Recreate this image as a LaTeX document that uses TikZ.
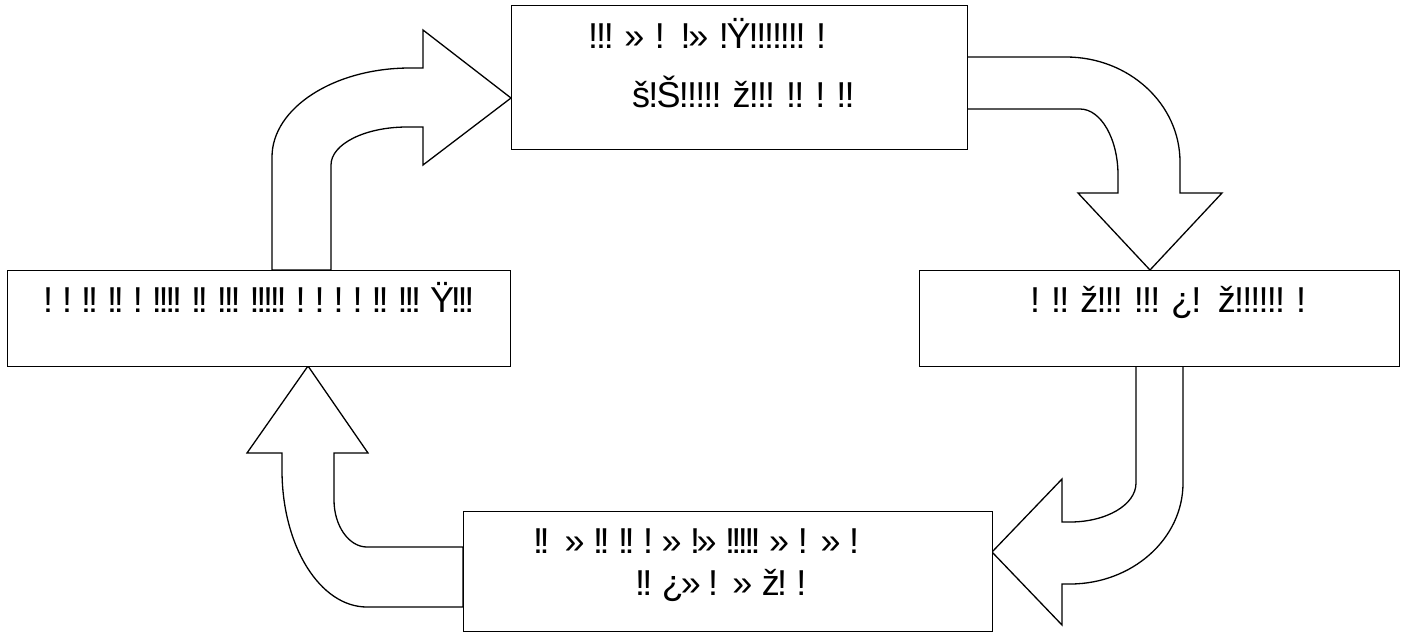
\documentclass[tikz,border=0pt]{standalone}
\usepackage{fontspec}
\setmainfont{Liberation Sans}
\newfontfamily\garb{Liberation Sans}
\newcommand\tightness[1]{\addfontfeature{LetterSpace=#1}}
\begin{document}
\begin{tikzpicture}[x=1pt,y=-1pt,
  box/.style={draw=black, line width=1.3pt, fill=white, inner sep=0pt, anchor=north west},
  blockarrow/.style={draw=black, line width=1.3pt, fill=white, line join=miter},
  lbl/.style={inner sep=0pt, anchor=base west, font=\garb\fontsize{36}{40}\selectfont}]
\useasboundingbox (0,0) rectangle (1410,633);

% curved block arrows between the boxes
% left box -> top box
\filldraw[blockarrow] (272,270) -- (272,157)
  .. controls (272,108) and (334,68) .. (410,68) -- (423,68) -- (423,30)
  -- (511,98) -- (423,165) -- (423,127) -- (407,127)
  .. controls (365,127) and (331,144) .. (331,165) -- (331,270) -- cycle;
% top box -> right box
\filldraw[blockarrow] (967,57) -- (1066,57)
  .. controls (1129,57) and (1180,104) .. (1180,162) -- (1180,193) -- (1222,193)
  -- (1150,270) -- (1078,193) -- (1118,193) -- (1118,175)
  .. controls (1118,139) and (1101,109) .. (1080,109) -- (967,109) -- cycle;
% right box -> bottom box
\filldraw[blockarrow] (1136,366) -- (1136,483)
  .. controls (1136,505) and (1106,522) .. (1070,522) -- (1062,522) -- (1062,479)
  -- (992,552) -- (1062,625) -- (1062,584) -- (1070,584)
  .. controls (1132,584) and (1183,539) .. (1183,483) -- (1183,366) -- cycle;
% bottom box -> left box
\filldraw[blockarrow] (463,547) -- (367,547)
  .. controls (349,547) and (334,526) .. (334,500) -- (334,453) -- (368,453)
  -- (308,366) -- (247,453) -- (282,453) -- (282,470)
  .. controls (282,546) and (320,607) .. (367,607) -- (463,607) -- cycle;

% boxes
\node[box, minimum width=456pt, minimum height=144pt] (topbox) at (511,5) {};
\node[box, minimum width=503pt, minimum height=96pt] (leftbox) at (7,270) {};
\node[box, minimum width=480pt, minimum height=96pt] (rightbox) at (919,270) {};
\node[box, minimum width=529pt, minimum height=120pt] (botbox) at (463,511) {};

% box texts
\node[lbl] (topa) at (588,48) {\tightness{-6}!!! » !\ \ !» !Ÿ!!!!!!! !};
\node[lbl] (topb) at (632,107) {\tightness{-5}š!Š!!!!! ž!!! !! ! !!};
\node[lbl] (lefta) at (43,312) {\tightness{-9}! ! !! !! ! !!!! !! !!! !!!!! ! ! ! ! !! !!! Ÿ!!!};
\node[lbl] (righta) at (1030,312) {\tightness{-5}! !! ž!!! !!! ¿!\ \ ž!!!!!! !};
\node[lbl] (bota) at (533,553) {\tightness{-10}!! \ » !! !! ! » !» !!!!! » !\ \ » !};
\node[lbl] (botb) at (635,595) {\tightness{-8}!! ¿» !\ \ » ž! !};
\end{tikzpicture}
\end{document}
